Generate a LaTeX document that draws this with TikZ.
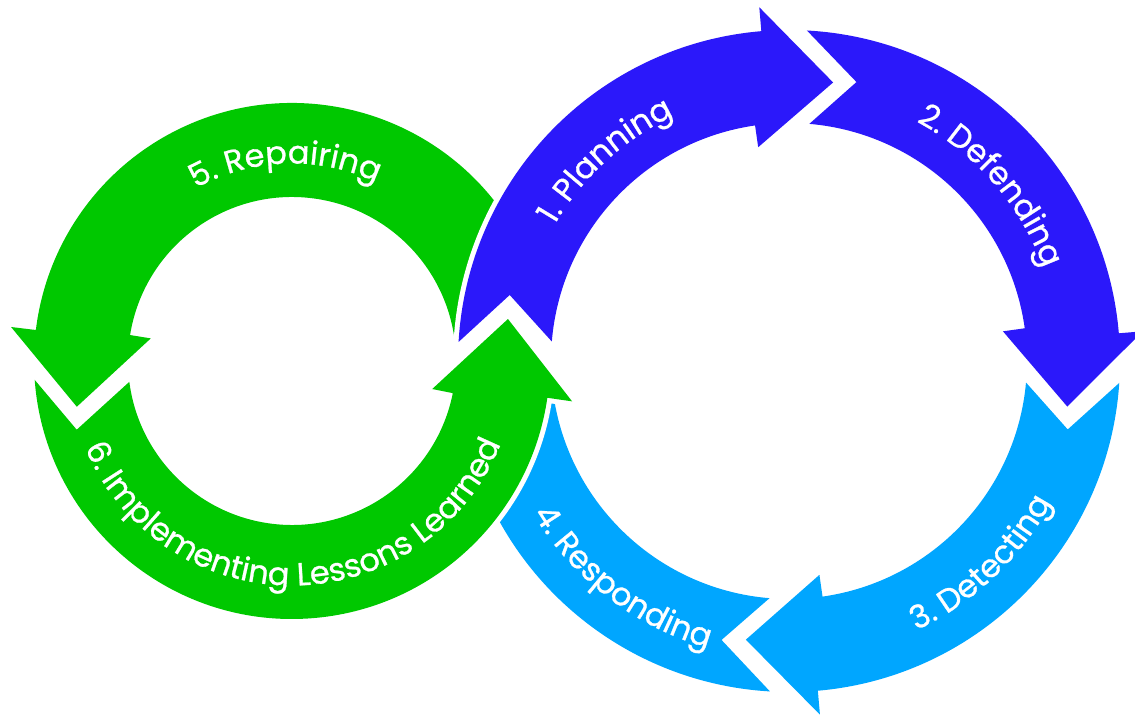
\documentclass[tikz,border=0pt]{standalone}
\usepackage{fontspec}
\newfontfamily\labelfont{Poppins}[FakeBold=0.8]
\usetikzlibrary{decorations.text}

\definecolor{ringgreen}{RGB}{0,200,0}
\definecolor{ringblue}{RGB}{43,24,250}
\definecolor{ringsky}{RGB}{0,166,255}

% ring geometry (centre, radii) is set with \setring before drawing a ring
\newcommand\setring[8]{%
  \def\arcCX{#1}\def\arcCY{#2}\def\arcRi{#3}\def\arcRo{#4}%
  \def\arcRbi{#5}\def\arcRbo{#6}\def\arcRt{#7}\def\arcRn{#8}}
\newcommand\rp[2]{([shift={(\arcCX pt,\arcCY pt)}]#1:#2pt)}

% arrow along the ring: #1 style, #2/#3 tail outer/inner angle, #4 notch angle,
% #5/#6 head outer/inner angle, #7 tip angle
\newcommand\ringarrow[7]{%
  \fill[#1] \rp{#2}{\arcRo} arc[start angle=#2, end angle=#5, radius=\arcRo pt]
    -- \rp{#5}{\arcRbo} -- \rp{#7}{\arcRt} -- \rp{#6}{\arcRbi}
    -- \rp{#6}{\arcRi} arc[start angle=#6, end angle=#3, radius=\arcRi pt]
    -- \rp{#4}{\arcRn} -- cycle;}

% white label along an arc: #1 radius, #2 start angle, #3 end angle, #4 text
\newcommand\arclabel[4]{%
  \path[decorate, decoration={text along path, text align=center,
     text={|\labelfont\fontsize{32}{32}\selectfont\color{white}|#4}}]
     \rp{#2}{#1} arc[start angle=#2, end angle=#3, radius=#1pt];}

\tikzset{
  arrowfill/.style={fill=#1, preaction={draw=white, line width=10pt, line join=round}}
}

\begin{document}
\begin{tikzpicture}[x=1pt,y=1pt]
\useasboundingbox (0,0) rectangle (1135,720);

% ---------- green ring (left), counter-clockwise ----------
\setring{292}{359}{164}{258}{143}{283}{220}{226}
% 5. Repairing
\fill[arrowfill=ringgreen] \rp{30}{\arcRo} arc[start angle=30, end angle=173.1, radius=\arcRo pt]
  -- \rp{173.1}{\arcRbo} -- \rp{192}{\arcRt} -- \rp{170.9}{\arcRbi}
  -- \rp{170.9}{\arcRi} arc[start angle=170.9, end angle=7, radius=\arcRi pt] -- cycle;

% ---------- blue ring (right), clockwise ----------
\setring{789}{359}{238}{331}{216}{355}{282}{287}
% 4. Responding (its end passes under the green arrow)
\fill[arrowfill=ringsky] \rp{-93.3}{\arcRo} arc[start angle=-93.3, end angle=-160, radius=\arcRo pt]
  -- \rp{-174}{\arcRi} arc[start angle=-174, end angle=-94.7, radius=\arcRi pt]
  -- \rp{-103.6}{\arcRn} -- cycle;

% 6. Implementing Lessons Learned
\setring{292}{359}{164}{258}{143}{283}{220}{226}
\ringarrow{arrowfill=ringgreen}{184.2}{187.3}{197.7}{351.8}{348.7}{371}

% 1. Planning, 2. Defending, 3. Detecting
\setring{789}{359}{238}{331}{216}{355}{282}{287}
\ringarrow{arrowfill=ringblue}{176.7}{175.3}{166.7}{94.8}{98.2}{81}
\ringarrow{arrowfill=ringblue}{86.9}{85.1}{76.4}{4.8}{7.9}{-9.3}
\ringarrow{arrowfill=ringsky}{-3.8}{-5.2}{-13.8}{-85}{-81.9}{-98.8}

% ---------- labels ----------
\arclabel{271}{177.5}{87.5}{1. Planning}
\arclabel{271}{86}{-4}{2. Defending}
\arclabel{298}{-91.5}{-1.5}{3. Detecting}
\arclabel{298}{-172.5}{-82.5}{4. Responding}
\setring{292}{359}{164}{258}{143}{283}{220}{226}
\arclabel{197.5}{142}{42}{5. Repairing}
\arclabel{224.5}{185}{356}{6. Implementing Lessons Learned}
\end{tikzpicture}
\end{document}
